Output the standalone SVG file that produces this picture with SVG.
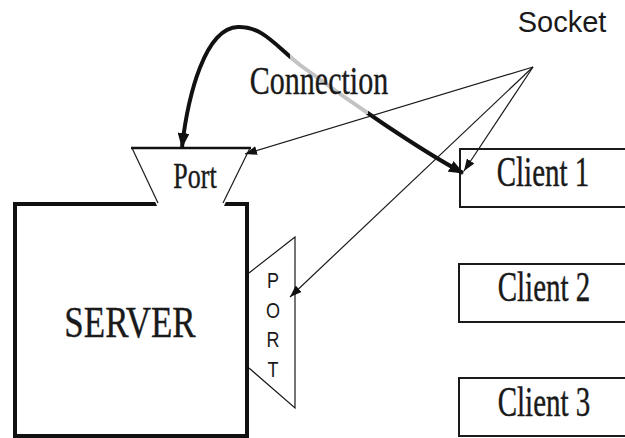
<svg xmlns="http://www.w3.org/2000/svg" width="625" height="438" viewBox="0 0 625 438">
  <style>
    .serif { font-family: "Liberation Serif", "Times New Roman", serif; fill: #1a1a1a; stroke: #1a1a1a; stroke-width: 0.3; }
    .sans { font-family: "Liberation Sans", Arial, sans-serif; fill: #1a1a1a; }
    .thin { stroke: #1a1a1a; stroke-width: 1.2; fill: none; }
    .box { fill: #fff; stroke: #1a1a1a; stroke-width: 2; }
  </style>
  <defs>
    <marker id="head" markerUnits="userSpaceOnUse" markerWidth="13" markerHeight="9" refX="12" refY="4.5" orient="auto">
      <path d="M0,0 L12,4.5 L0,9 z" fill="#111"/>
    </marker>
    <marker id="headBold" markerUnits="userSpaceOnUse" markerWidth="16" markerHeight="12" refX="14" refY="6" orient="auto-start-reverse">
      <path d="M0,0 L15,6 L0,12 z" fill="#111"/>
    </marker>
  </defs>

  <!-- server with its two ports -->
  <g id="server">
    <rect x="15" y="204" width="232" height="232" fill="#fff" stroke="#111" stroke-width="4"/>
    <text class="serif" font-size="35" text-anchor="middle" transform="translate(130,337) scale(1,1.25)">SERVER</text>
  </g>

  <g id="port-top">
    <polygon points="132,148 250,148 224,206 157,206" fill="#fff"/>
    <line x1="131" y1="148" x2="251" y2="148" stroke="#111" stroke-width="2.5"/>
    <line class="thin" x1="132" y1="148" x2="158" y2="203"/>
    <line class="thin" x1="250" y1="148" x2="223" y2="203"/>
    <text class="serif" font-size="26" text-anchor="middle" transform="translate(195,188) scale(1,1.4)">Port</text>
  </g>

  <g id="port-side">
    <polygon points="249,273 295,237 295,408 249,368" fill="#fff"/>
    <polyline class="thin" points="249,273 295,237 295,408 249,368"/>
    <g class="sans" font-size="18" text-anchor="middle">
      <text transform="translate(273,288) scale(1,1.2)">P</text>
      <text transform="translate(273,318) scale(1,1.2)">O</text>
      <text transform="translate(273,347) scale(1,1.2)">R</text>
      <text transform="translate(273,377) scale(1,1.2)">T</text>
    </g>
  </g>

  <!-- clients -->
  <g id="client1">
    <rect class="box" x="460" y="149" width="166" height="58"/>
    <text class="serif" font-size="29" text-anchor="middle" transform="translate(543,186) scale(1,1.45)">Client 1</text>
  </g>
  <g id="client2">
    <rect class="box" x="459" y="264" width="167" height="58"/>
    <text class="serif" font-size="29" text-anchor="middle" transform="translate(544,301) scale(1,1.45)">Client 2</text>
  </g>
  <g id="client3">
    <rect class="box" x="459" y="378" width="167" height="58"/>
    <text class="serif" font-size="29" text-anchor="middle" transform="translate(544,416) scale(1,1.45)">Client 3</text>
  </g>

  <g id="socket">
    <text class="sans" x="562" y="32" font-size="29" text-anchor="middle">Socket</text>
  </g>

  <!-- connectors -->
  <g id="connectors">
    <path d="M182,147 C188,95 205,28 238,27 C262,26 275,45 300,65 C350,102 420,150 463,173" fill="none" stroke="#111" stroke-width="4" marker-start="url(#headBold)" marker-end="url(#headBold)"/>
    <rect x="290" y="48" width="78" height="66" fill="#fff" opacity="0.75"/>
    <text class="serif" font-size="30" text-anchor="middle" transform="translate(319,94) scale(1,1.3)">Connection</text>
    <line class="thin" x1="533" y1="67" x2="245" y2="154" marker-end="url(#head)"/>
    <line class="thin" x1="533" y1="67" x2="290" y2="297" marker-end="url(#head)"/>
    <line class="thin" x1="533" y1="67" x2="464" y2="171" marker-end="url(#head)"/>
  </g>
</svg>
